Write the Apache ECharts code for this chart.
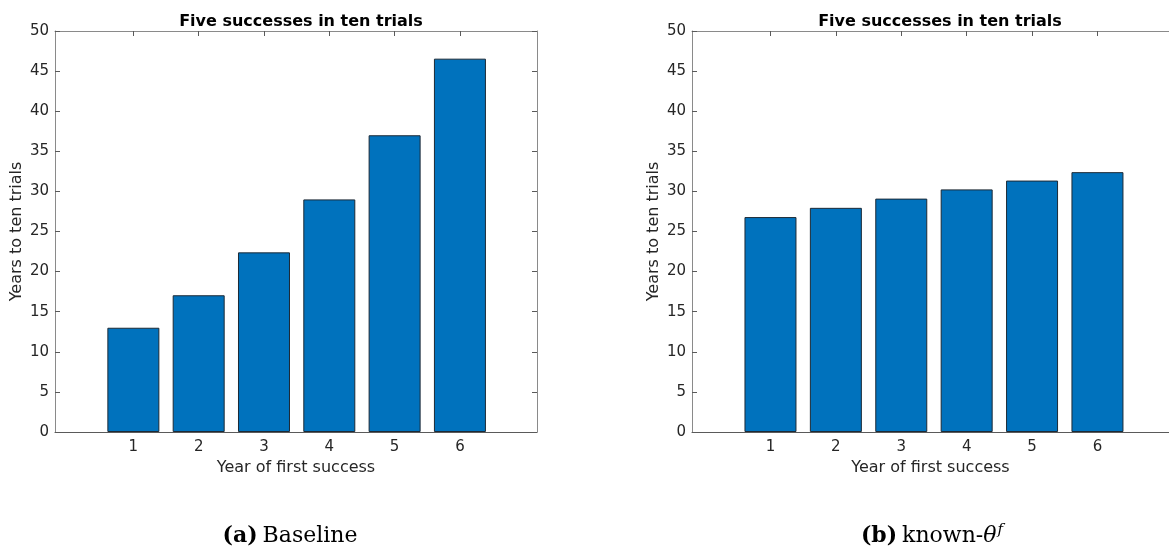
<!DOCTYPE html>
<html>
<head>
<meta charset="utf-8">
<script src="https://cdn.jsdelivr.net/npm/echarts@6/dist/echarts.min.js"></script>
<style>
html,body{margin:0;padding:0;background:#fff;}
#chart{width:1169px;height:552px;}
</style>
</head>
<body>
<div id="chart"></div>
<script>
const categories = [1, 2, 3, 4, 5, 6];
const baselineValues = [13.0, 17.05, 22.4, 29.0, 37.0, 46.55];
const knownThetaValues = [26.8, 27.95, 29.1, 30.25, 31.35, 32.4];
const yTicks = [0, 5, 10, 15, 20, 25, 30, 35, 40, 45, 50];
const plotTitle = 'Five successes in ten trials';
const xName = 'Year of first success';
const yName = 'Years to ten trials';

const chart = echarts.init(document.getElementById('chart'), null, {renderer: 'canvas'});
const FONT = 'DejaVu Sans';
const SERIF = 'DejaVu Serif';
const TXT = '#262626';
const AX = '#8a8a8a';

function xAxes(gi, xmax) {
  return [{
    type: 'value', gridIndex: gi, position: 'bottom', min: -0.2, max: xmax,
    axisLine: {show: true, onZero: false, lineStyle: {color: '#5a5a5a', width: 1}},
    axisTick: {show: true, inside: true, length: 5, customValues: categories, lineStyle: {color: '#5a5a5a'}},
    axisLabel: {show: true, customValues: categories, margin: 8, color: TXT, fontFamily: FONT, fontSize: 15},
    splitLine: {show: false},
    name: xName, nameLocation: 'middle', nameGap: 26,
    nameTextStyle: {color: TXT, fontFamily: FONT, fontSize: 16}
  }, {
    type: 'value', gridIndex: gi, position: 'top', min: -0.2, max: xmax,
    axisLine: {show: true, onZero: false, lineStyle: {color: AX, width: 1}},
    axisTick: {show: true, inside: true, length: 5, customValues: categories, lineStyle: {color: '#5a5a5a'}},
    axisLabel: {show: false},
    splitLine: {show: false}
  }];
}
function yAxes(gi, showRight) {
  return [{
    type: 'value', gridIndex: gi, position: 'left', min: 0, max: 50, interval: 5,
    axisLine: {show: true, onZero: false, lineStyle: {color: AX, width: 1}},
    axisTick: {show: true, inside: true, length: 5, lineStyle: {color: '#5a5a5a'}},
    axisLabel: {show: true, margin: 6, color: TXT, fontFamily: FONT, fontSize: 15,
      customValues: yTicks},
    splitLine: {show: false},
    name: yName, nameLocation: 'middle', nameGap: 30, nameRotate: 90,
    nameTextStyle: {color: TXT, fontFamily: FONT, fontSize: 16}
  }, {
    type: 'value', gridIndex: gi, position: 'right', min: 0, max: 50, interval: 5,
    show: showRight,
    axisLine: {show: true, onZero: false, lineStyle: {color: AX, width: 1}},
    axisTick: {show: true, inside: true, length: 5, lineStyle: {color: '#5a5a5a'}},
    axisLabel: {show: false},
    splitLine: {show: false}
  }];
}

function barSeries(values, xi, yi) {
  return {
    type: 'bar', xAxisIndex: xi, yAxisIndex: yi,
    data: categories.map((c, i) => [c, values[i]]),
    barWidth: 52,
    itemStyle: {color: '#0072BD', borderColor: '#1c2a36', borderWidth: 1},
    silent: true, animation: false
  };
}

const capBase = {fontFamily: SERIF, fontSize: 22, color: '#000', fontWeight: 'normal'};
const option = {
  backgroundColor: '#ffffff',
  animation: false,
  title: [
    {text: plotTitle, left: 296, top: 9, textAlign: 'center',
     textStyle: {fontFamily: FONT, fontWeight: 'bold', fontSize: 16, color: '#000'}},
    {text: plotTitle, left: 935, top: 9, textAlign: 'center',
     textStyle: {fontFamily: FONT, fontWeight: 'bold', fontSize: 16, color: '#000'}},
    {text: '{b|(a)} {n|Baseline}', left: 285, top: 520, textAlign: 'center',
     textStyle: {fontWeight: 'normal', rich: {
       b: Object.assign({}, capBase, {fontWeight: 'bold'}),
       n: capBase}}},
    {text: '{b|(b)} {n|known-}{i|θ}{s|f}', left: 927, top: 518, textAlign: 'center',
     textStyle: {fontWeight: 'normal', rich: {
       b: Object.assign({}, capBase, {fontWeight: 'bold'}),
       n: capBase,
       i: Object.assign({}, capBase, {fontStyle: 'italic'}),
       s: Object.assign({}, capBase, {fontStyle: 'italic', fontSize: 15, verticalAlign: 'top', padding: [0, 0, 12, 1]})}}}
  ],
  grid: [
    {left: 55, top: 31, width: 482, height: 401, containLabel: false},
    {left: 692, top: 31, width: 477, height: 401, containLabel: false}
  ],
  xAxis: [...xAxes(0, 7.18), ...xAxes(1, 7.094)],
  yAxis: [...yAxes(0, true), ...yAxes(1, false)],
  series: [
    barSeries(baselineValues, 0, 0),
    barSeries(knownThetaValues, 2, 2)
  ]
};
chart.setOption(option);
</script>
</body>
</html>
